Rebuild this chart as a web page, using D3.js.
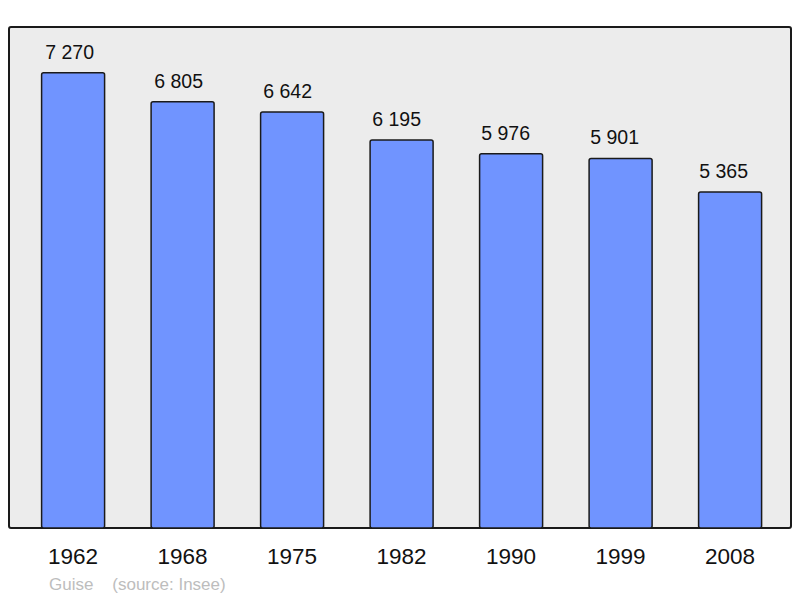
<!DOCTYPE html>
<html>
<head>
<script src="https://d3js.org/d3.v7.min.js"></script>
<style>
body { margin: 0; background: #ffffff; font-family: "Liberation Sans", Arial, sans-serif; }
</style>
</head>
<body>
<div id="chart"></div>
<script>
var years = ["1962", "1968", "1975", "1982", "1990", "1999", "2008"];
var population = [7270, 6805, 6642, 6195, 5976, 5901, 5365];
var valueLabels = ["7 270", "6 805", "6 642", "6 195", "5 976", "5 901", "5 365"];

var WIDTH = 800, HEIGHT = 598;
var svg = d3.select("#chart").append("svg")
  .attr("width", WIDTH)
  .attr("height", HEIGHT);

// plot frame
svg.append("rect")
  .attr("x", 9).attr("y", 27)
  .attr("width", 782).attr("height", 501)
  .attr("rx", 2)
  .style("fill", "#ececec")
  .style("stroke", "#1a1a1a")
  .style("stroke-width", 2);

var x = d3.scaleBand()
  .domain(years)
  .range([19.7, 783.5])
  .paddingInner(0.4247)
  .paddingOuter(0.2);

var y = d3.scaleLinear()
  .domain([0, 8000])
  .range([528, 27]);

svg.selectAll("rect.bar")
  .data(population)
  .enter().append("rect")
    .attr("class", "bar")
    .attr("x", function(d, i) { return x(years[i]); })
    .attr("y", function(d) { return y(d); })
    .attr("width", x.bandwidth())
    .attr("height", function(d) { return y(0) - y(d); })
    .attr("rx", 2)
    .style("fill", "#7094ff")
    .style("stroke", "#1a1a1a")
    .style("stroke-width", 1.5);

// value labels sit a little left of bar centre in the original
svg.selectAll("text.value")
  .data(population)
  .enter().append("text")
    .attr("class", "value")
    .attr("x", function(d, i) { return x(years[i]) + x.bandwidth() / 2 - 3.5 - i * 0.5; })
    .attr("y", function(d) { return y(d) - 14; })
    .attr("text-anchor", "middle")
    .style("font-size", "19.5px")
    .style("fill", "#111")
    .text(function(d, i) { return valueLabels[i]; });

svg.selectAll("text.year")
  .data(years)
  .enter().append("text")
    .attr("class", "year")
    .attr("x", function(d) { return x(d) + x.bandwidth() / 2; })
    .attr("y", 564)
    .attr("text-anchor", "middle")
    .style("font-size", "22.5px")
    .style("fill", "#111")
    .text(function(d) { return d; });

svg.append("text")
  .attr("x", 49).attr("y", 590)
  .style("font-size", "17px")
  .style("fill", "#bdbdbd")
  .style("white-space", "pre")
  .text("Guise    (source: Insee)");
</script>
</body>
</html>
